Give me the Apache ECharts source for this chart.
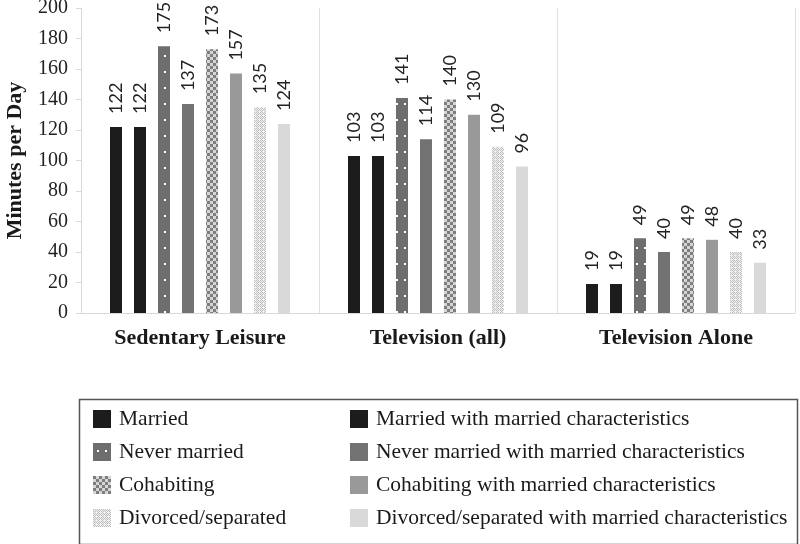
<!DOCTYPE html>
<html>
<head>
<meta charset="utf-8">
<script src="https://cdn.jsdelivr.net/npm/echarts@6/dist/echarts.min.js"></script>
<style>html,body{margin:0;padding:0;background:#fff;}#c{width:800px;height:544px;}</style>
</head>
<body>
<div id="c"></div>
<script>
const categories = ['Sedentary Leisure', 'Television (all)', 'Television Alone'];
const seriesNames = [
  'Married', 'Married with married characteristics',
  'Never married', 'Never married with married characteristics',
  'Cohabiting', 'Cohabiting with married characteristics',
  'Divorced/separated', 'Divorced/separated with married characteristics'
];
const married = [122, 103, 19];
const marriedChar = [122, 103, 19];
const neverMarried = [175, 141, 49];
const neverMarriedChar = [137, 114, 40];
const cohabiting = [173, 140, 49];
const cohabitingChar = [157, 130, 48];
const divorced = [135, 109, 40];
const divorcedChar = [124, 96, 33];
const yTicks = {min: 0, max: 200, interval: 20};

function makePattern(w, h, draw) {
  const c = document.createElement('canvas');
  c.width = w; c.height = h;
  const ctx = c.getContext('2d');
  draw(ctx);
  return {image: c, repeat: 'repeat'};
}
const dotPattern = makePattern(8, 16, ctx => {
  ctx.fillStyle = '#6e6e6e'; ctx.fillRect(0, 0, 8, 16);
  ctx.fillStyle = '#ffffff'; ctx.fillRect(4, 7, 2, 2);
});
const checkPattern = makePattern(6, 6, ctx => {
  ctx.fillStyle = '#d6d6d6'; ctx.fillRect(0, 0, 6, 6);
  ctx.fillStyle = '#7e7e7e'; ctx.fillRect(0, 0, 3, 3); ctx.fillRect(3, 3, 3, 3);
});
const lightPattern = makePattern(4, 4, ctx => {
  ctx.fillStyle = '#f2f2f2'; ctx.fillRect(0, 0, 4, 4);
  ctx.fillStyle = '#bdbdbd';
  ctx.fillRect(0, 0, 1, 1); ctx.fillRect(2, 0, 1, 1);
  ctx.fillRect(1, 1, 1, 1); ctx.fillRect(3, 1, 1, 1);
  ctx.fillRect(0, 2, 1, 1); ctx.fillRect(2, 2, 1, 1);
  ctx.fillRect(1, 3, 1, 1);
});

const dataArrays = [married, marriedChar, neverMarried, neverMarriedChar, cohabiting, cohabitingChar, divorced, divorcedChar];
const fills = ['#1c1c1c', '#1c1c1c', dotPattern, '#727272', checkPattern, '#999999', lightPattern, '#d9d9d9'];

const serif = '"Liberation Serif", serif';
const series = dataArrays.map((d, i) => ({
  name: seriesNames[i],
  type: 'bar',
  data: d,
  barWidth: 12,
  barGap: '100%',
  itemStyle: {color: fills[i]},
  label: {
    show: true, position: 'top', rotate: 90, align: 'left', verticalAlign: 'middle',
    distance: 13, fontFamily: 'Lato, sans-serif', fontSize: 18, color: '#222'
  }
}));

const legendText = {fontFamily: serif, fontSize: 21.5, color: '#1a1a1a', lineHeight: 22, padding: [0, 0, 0, 3]};

const chart = echarts.init(document.getElementById('c'));
chart.setOption({
  animation: false,
  grid: {left: 81, right: 5, top: 8, bottom: 231, containLabel: false, outerBoundsMode: 'none'},
  xAxis: {
    type: 'category', data: categories,
    axisLine: {lineStyle: {color: '#d9d9d9', width: 1}},
    axisTick: {show: false},
    splitLine: {show: true, lineStyle: {color: '#e0e0e0', width: 1}},
    axisLabel: {fontFamily: serif, fontWeight: 'bold', fontSize: 22, color: '#1a1a1a', margin: 14}
  },
  yAxis: {
    type: 'value', min: yTicks.min, max: yTicks.max, interval: yTicks.interval,
    name: 'Minutes per Day', nameLocation: 'middle', nameGap: 55,
    nameTextStyle: {fontFamily: serif, fontWeight: 'bold', fontSize: 22, color: '#1a1a1a'},
    axisLine: {show: true, lineStyle: {color: '#d9d9d9'}},
    axisTick: {show: true, length: 5, lineStyle: {color: '#d9d9d9'}},
    splitLine: {show: false},
    axisLabel: {fontFamily: serif, fontSize: 20, color: '#222', margin: 13}
  },
  legend: [
    {
      orient: 'vertical', left: 88, top: 403, itemWidth: 18, itemHeight: 18, itemGap: 11, icon: 'rect',
      data: [seriesNames[0], seriesNames[2], seriesNames[4], seriesNames[6]],
      textStyle: legendText, selectedMode: false
    },
    {
      orient: 'vertical', left: 345, top: 403, itemWidth: 18, itemHeight: 18, itemGap: 11, icon: 'rect',
      data: [seriesNames[1], seriesNames[3], seriesNames[5], seriesNames[7]],
      textStyle: legendText, selectedMode: false
    }
  ],
  graphic: [{
    type: 'rect', left: 77, top: 397,
    shape: {width: 718, height: 145},
    style: {fill: 'none', stroke: '#555', lineWidth: 1.5},
    silent: true
  }],
  series: series
});
</script>
</body>
</html>
